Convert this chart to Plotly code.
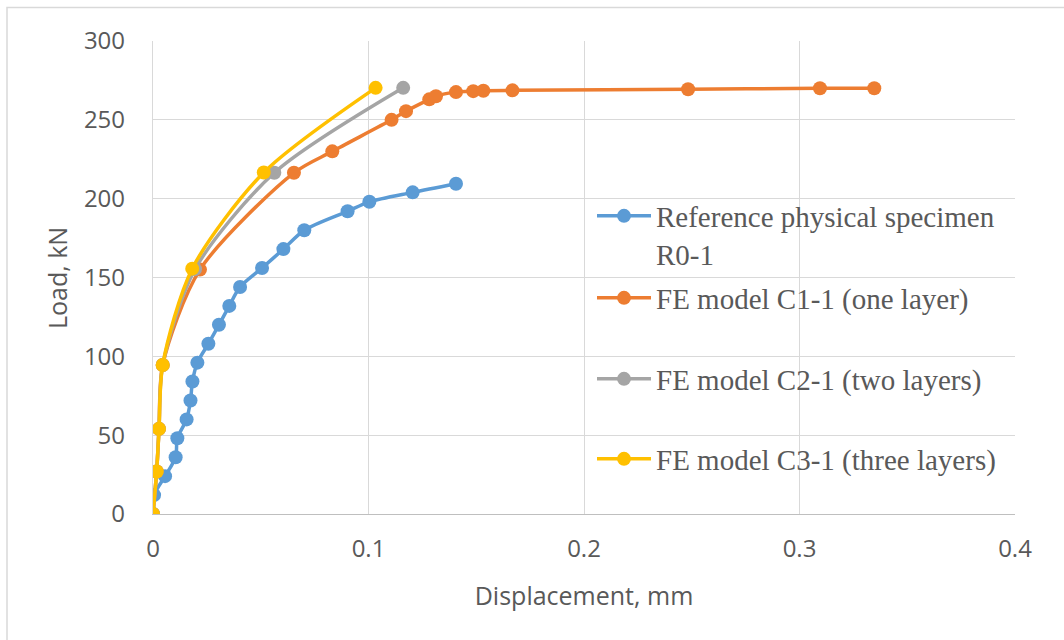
import plotly.graph_objects as go

# Reference physical specimen R0-1
ref_x = [0, 0.0005, 0.0056, 0.0105, 0.0113, 0.0156, 0.0174, 0.0183, 0.0206, 0.0257, 0.0306,
         0.0354, 0.0404, 0.0506, 0.0605, 0.0702, 0.0903, 0.1004, 0.1205, 0.1406]
ref_y = [0, 12, 24, 36, 48, 60, 72, 84, 96, 108, 120, 132, 144, 156, 168, 180, 192, 198, 204, 209.5]

# FE model C1-1 (one layer)
c1_x = [0, 0.0017, 0.0028, 0.0045, 0.0218, 0.0654, 0.0832, 0.1107, 0.1174, 0.1282, 0.1313,
        0.1406, 0.1486, 0.1533, 0.1668, 0.2483, 0.3095, 0.3347]
c1_y = [0, 27, 54, 94.5, 155, 216.4, 230, 250, 255.5, 263, 265, 267.6, 268.2, 268.4, 268.7,
        269.4, 270, 270]

# FE model C2-1 (two layers)
c2_x = [0, 0.0017, 0.0028, 0.0045, 0.0195, 0.0563, 0.1161]
c2_y = [0, 27, 54, 94.5, 155.3, 216.4, 270.3]

# FE model C3-1 (three layers)
c3_x = [0, 0.0017, 0.0028, 0.0045, 0.0182, 0.0514, 0.1033]
c3_y = [0, 27, 54, 94.5, 155.6, 216.6, 270.3]

names = ["Reference physical specimen<br>R0-1", "FE model C1-1 (one layer)",
         "FE model C2-1 (two layers)", "FE model C3-1 (three layers)"]
colors = ["#5B9BD5", "#ED7D31", "#A5A5A5", "#FFC000"]
xs = [ref_x, c1_x, c2_x, c3_x]
ys = [ref_y, c1_y, c2_y, c3_y]
legend_ids = ["legend", "legend2", "legend3", "legend4"]

fig = go.Figure()
for i, (x, y) in enumerate(zip(xs, ys)):
    fig.add_trace(go.Scatter(
        x=x, y=y, name=names[i], mode="lines+markers",
        line=dict(color=colors[i], width=3.5, shape="spline", smoothing=0.8),
        marker=dict(color=colors[i], size=14),
        legend=legend_ids[i], showlegend=True,
    ))

L, R, T, B = 153, 49, 41, 126
W, H = 1064, 640
pw, ph = W - L - R, H - T - B

legend_font = dict(family="Liberation Serif, Times New Roman, serif", size=29, color="#595959")
# item centre rows in pixels
rows = [235, 298, 379, 459]


def leg(row, valign="middle"):
    return dict(x=(592 - L) / pw, y=(H - B - row) / ph,
                xanchor="left", yanchor="middle", bgcolor="rgba(0,0,0,0)", borderwidth=0,
                font=legend_font, itemwidth=54, valign=valign, visible=True)


fig.update_layout(
    width=W, height=H,
    showlegend=True,
    margin=dict(l=L, r=R, t=T, b=B),
    paper_bgcolor="white", plot_bgcolor="white",
    font=dict(family="Open Sans, sans-serif", color="#595959"),
    xaxis=dict(range=[0, 0.4], dtick=0.1, tickformat="~g", showgrid=True, gridcolor="#D9D9D9",
               gridwidth=1.3, zeroline=False, showline=True, linecolor="#BFBFBF", linewidth=1.3,
               ticks="", tickfont=dict(size=24, color="#595959"), ticklabelstandoff=13,
               title=dict(text="Displacement, mm", font=dict(size=25, color="#595959"), standoff=24)),
    yaxis=dict(range=[0, 300], dtick=50, showgrid=True, gridcolor="#D9D9D9", gridwidth=1.3,
               zeroline=False, showline=True, linecolor="#D9D9D9", linewidth=1.3,
               ticks="", tickfont=dict(size=24, color="#595959"), ticklabelstandoff=22),
    annotations=[dict(text="Load, kN", textangle=-90, xref="paper", yref="paper",
                      x=(57 - L) / pw, y=(H - B - 278) / ph, xanchor="center", yanchor="middle",
                      showarrow=False, font=dict(size=25, color="#595959"))],
    legend=leg(rows[0], "top"),
    legend2=leg(rows[1]),
    legend3=leg(rows[2]),
    legend4=leg(rows[3]),
    shapes=[dict(type="rect", xref="paper", yref="paper",
                 x0=(7 - L) / pw, x1=(W + 20 - L) / pw,
                 y0=-(B + 20) / ph, y1=1 + (T - 7.5) / ph,
                 line=dict(color="#D9D9D9", width=1.5), fillcolor="rgba(0,0,0,0)", layer="below")],
)

fig.write_html("out.html")
